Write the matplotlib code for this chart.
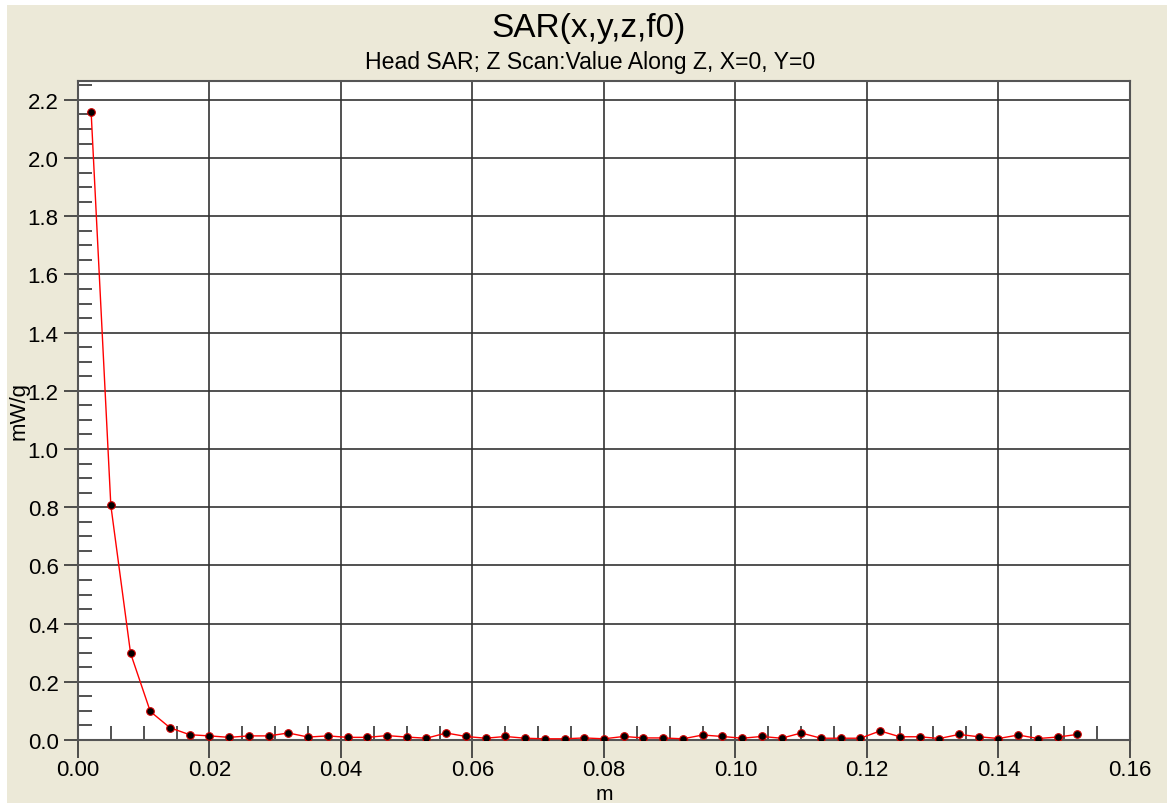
# SAR z-scan plot: value along Z at X=0, Y=0

import numpy as np
import matplotlib.pyplot as plt
from matplotlib.patches import Rectangle
from matplotlib.ticker import MultipleLocator, FormatStrFormatter

# depth positions along z [m]
z = [0.002, 0.005, 0.008, 0.011, 0.014, 0.017, 0.020, 0.023, 0.026, 0.029,
     0.032, 0.035, 0.038, 0.041, 0.044, 0.047, 0.050, 0.053, 0.056, 0.059,
     0.062, 0.065, 0.068, 0.071, 0.074, 0.077, 0.080, 0.083, 0.086, 0.089,
     0.092, 0.095, 0.098, 0.101, 0.104, 0.107, 0.110, 0.113, 0.116, 0.119,
     0.122, 0.125, 0.128, 0.131, 0.134, 0.137, 0.140, 0.143, 0.146, 0.149,
     0.152]

# SAR values [mW/g]
sar = [2.160, 0.806, 0.298, 0.098, 0.042, 0.018, 0.014, 0.009, 0.014, 0.014,
       0.024, 0.010, 0.014, 0.009, 0.009, 0.015, 0.010, 0.006, 0.024, 0.012,
       0.006, 0.012, 0.006, 0.004, 0.004, 0.007, 0.004, 0.012, 0.007, 0.007,
       0.004, 0.017, 0.012, 0.006, 0.012, 0.006, 0.024, 0.006, 0.006, 0.006,
       0.031, 0.011, 0.011, 0.005, 0.019, 0.011, 0.005, 0.017, 0.005, 0.010,
       0.019]

plt.rcParams['font.family'] = ['Liberation Sans', 'DejaVu Sans']

bg = '#ECE9D8'
W, H = 1167, 804
fig = plt.figure(figsize=(W / 100, H / 100), dpi=100, facecolor='white')
# beige panel, thin white strip left and top as in the screenshot
fig.patches.append(Rectangle((7 / W, 0), 1, 1 - 6 / H, transform=fig.transFigure,
                             facecolor=bg, edgecolor='none', zorder=-10))

ax = fig.add_axes([0.0668, 0.0784, 0.9015, 0.8196])
ax.set_facecolor('white')

ax.plot(z, sar, color='#ff0000', lw=1.0, marker='o', ms=5.5,
        mfc='black', mec='#d00000', mew=0.8, zorder=3)

ax.set_xlim(0, 0.16)
ax.set_ylim(0, 2.265)

ax.xaxis.set_major_locator(MultipleLocator(0.02))
ax.xaxis.set_minor_locator(MultipleLocator(0.005))
ax.yaxis.set_major_locator(MultipleLocator(0.2))
ax.yaxis.set_minor_locator(MultipleLocator(0.05))
ax.xaxis.set_major_formatter(FormatStrFormatter('%.2f'))
ax.yaxis.set_major_formatter(FormatStrFormatter('%.1f'))

ax.grid(True, which='major', color='#333333', lw=1.2)
ax.tick_params(which='major', direction='out', length=10, width=1.2,
               color='#333333', labelsize=16, pad=4)
ax.tick_params(axis='x', which='major', length=13, pad=1)
ax.tick_params(which='minor', direction='in', length=10, width=1.2,
               color='#333333')
for s in ax.spines.values():
    s.set_color('#555555')
    s.set_linewidth(1.5)

# axis labels placed like the screenshot
fig.text(604 / W, 0, 'm', ha='center', va='bottom', fontsize=15)
fig.text(19 / W, 0.489, 'mW/g', rotation=90, ha='center', va='center',
         fontsize=16)

fig.text(589 / W, 1 - 37 / H, 'SAR(x,y,z,f0)', ha='center', va='baseline',
         fontsize=24)
fig.text(590 / W, 1 - 68.5 / H, 'Head SAR; Z Scan:Value Along Z, X=0, Y=0',
         ha='center', va='baseline', fontsize=16.6)

plt.savefig('out.png', dpi=100, facecolor='white')
